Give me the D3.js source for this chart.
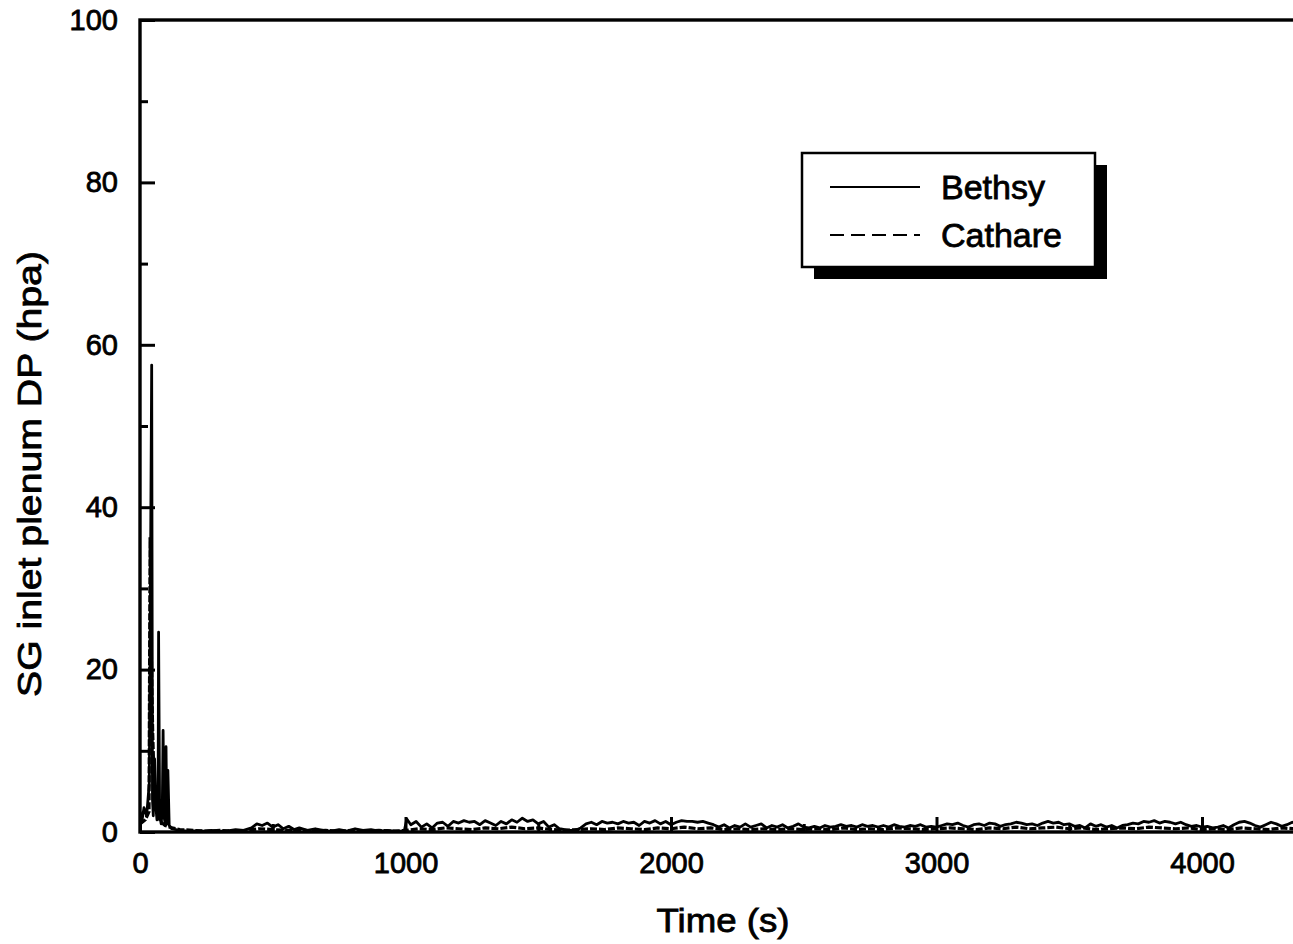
<!DOCTYPE html>
<html>
<head>
<meta charset="utf-8">
<script src="https://cdn.jsdelivr.net/npm/d3@7"></script>
<style>
  html, body { margin: 0; padding: 0; background: #fff; }
  svg { display: block; }
  text { font-family: "Liberation Sans", Arial, sans-serif; fill: #000; }
</style>
</head>
<body>
<svg id="chart" width="1293" height="944"></svg>
<script>
// Axis ticks
const xMajorTicks = [0, 1000, 2000, 3000, 4000];
const xMinorTicks = [500, 1500, 2500, 3500];
const yMajorTicks = [0, 20, 40, 60, 80, 100];
const yMinorTicks = [10, 30, 50, 70, 90];

// Bethsy measurement: [time (s), SG inlet plenum DP (hPa)]
const bethsy = [
  [0, 2.5], [8, 1.5], [15, 3.0], [25, 2.0], [35, 6.0], [44, 57.5], [47, 4.0], [50, 2.0], [55, 9.0],
  [60, 3.0], [64, 1.5], [68, 2.0], [70, 24.6], [74, 2.0], [80, 1.0], [84, 3.0], [87, 12.5], [90, 2.0],
  [95, 1.0], [98, 10.5], [101, 1.0], [105, 7.6], [110, 0.8], [120, 0.4],
  [150, 0.2], [180, 0.1], [210, 0.15], [240, 0.1], [270, 0.2], [300, 0.1], [330, 0.15], [360, 0.3],
  [390, 0.2], [420, 0.5], [440, 1.0], [460, 0.8], [480, 1.1], [500, 0.6], [520, 0.9], [540, 0.4],
  [560, 0.7], [580, 0.3], [600, 0.5], [630, 0.2], [660, 0.4], [690, 0.2], [720, 0.1], [750, 0.3],
  [780, 0.1], [810, 0.4], [840, 0.2], [870, 0.3], [900, 0.1], [930, 0.2], [960, 0.1], [995, 0.1],
  [1005, 1.6], [1020, 0.9], [1040, 1.3], [1060, 0.6], [1080, 1.0], [1100, 0.5], [1120, 1.1],
  [1140, 1.2], [1160, 0.7], [1180, 1.3], [1200, 1.1], [1220, 1.4], [1240, 1.2], [1260, 1.3],
  [1280, 0.9], [1300, 1.4], [1320, 1.1], [1340, 0.8], [1360, 1.3], [1380, 1.0], [1400, 1.5],
  [1420, 1.2], [1440, 1.7], [1460, 1.3], [1480, 1.5], [1500, 1.0], [1520, 1.3], [1540, 0.6],
  [1560, 0.9], [1580, 0.4], [1600, 0.3], [1620, 0.2], [1640, 0.2], [1660, 0.5], [1680, 1.0],
  [1700, 1.2], [1720, 0.9], [1740, 1.3], [1760, 1.1], [1780, 1.2], [1800, 1.0], [1820, 1.3],
  [1840, 1.1], [1860, 1.2], [1880, 0.8], [1900, 1.3], [1920, 1.1], [1940, 1.4], [1960, 1.0],
  [1980, 1.3], [2000, 0.9], [2020, 1.2], [2040, 1.4], [2060, 1.3], [2080, 1.3], [2100, 1.2],
  [2120, 1.3], [2140, 1.1], [2160, 0.9], [2180, 0.6], [2200, 0.9], [2220, 0.5], [2240, 0.8],
  [2260, 0.6], [2280, 1.0], [2300, 0.6], [2320, 0.8], [2340, 1.0], [2360, 0.5], [2380, 0.8],
  [2400, 0.6], [2420, 0.9], [2440, 0.5], [2460, 0.7], [2480, 1.0], [2500, 0.6], [2520, 0.5],
  [2540, 0.7], [2560, 0.5], [2580, 0.8], [2600, 0.6], [2620, 0.7], [2640, 0.9], [2660, 0.7],
  [2680, 0.8], [2700, 0.6], [2720, 0.9], [2740, 0.7], [2760, 0.8], [2780, 0.6], [2800, 0.8],
  [2820, 0.6], [2840, 0.9], [2860, 0.7], [2880, 0.6], [2900, 0.8], [2920, 0.7], [2940, 0.9],
  [2960, 0.6], [2980, 0.7], [3000, 0.6], [3020, 0.8], [3040, 1.0], [3060, 0.9], [3080, 1.1],
  [3100, 0.8], [3120, 0.6], [3140, 0.9], [3160, 1.0], [3180, 0.8], [3200, 1.1], [3220, 1.0],
  [3240, 0.7], [3260, 0.9], [3280, 1.0], [3300, 1.2], [3320, 1.1], [3340, 0.9], [3360, 1.0],
  [3380, 0.8], [3400, 1.1], [3420, 1.3], [3440, 1.1], [3460, 1.2], [3480, 0.9], [3500, 1.0],
  [3520, 0.7], [3540, 0.8], [3560, 0.5], [3580, 1.0], [3600, 0.7], [3620, 0.9], [3640, 0.6],
  [3660, 0.8], [3680, 0.5], [3700, 0.8], [3720, 0.9], [3740, 1.1], [3760, 1.0], [3780, 1.3],
  [3800, 1.2], [3820, 1.4], [3840, 1.1], [3860, 1.3], [3880, 1.2], [3900, 1.0], [3920, 1.2],
  [3940, 0.9], [3960, 0.7], [3980, 0.8], [4000, 0.6], [4020, 0.7], [4040, 0.5], [4060, 0.6],
  [4080, 0.8], [4100, 0.5], [4120, 0.9], [4140, 1.2], [4160, 1.3], [4180, 1.1], [4200, 0.8],
  [4220, 0.6], [4240, 0.9], [4260, 1.2], [4280, 1.0], [4300, 0.7], [4320, 0.9], [4340, 1.2],
  [4360, 1.0], [4380, 0.6], [4400, 0.9], [4420, 1.1], [4440, 0.8], [4460, 1.0]
];

// Cathare calculation: [time (s), SG inlet plenum DP (hPa)]
const cathare = [
  [0, 1.0], [20, 1.5], [34, 2.5], [38, 36.3], [40, 30.0], [42, 24.0], [45, 17.0], [48, 12.0],
  [52, 7.5], [56, 5.0], [62, 3.0], [70, 1.8], [80, 1.2], [95, 0.8], [120, 0.5],
  [150, 0.3], [200, 0.2], [250, 0.1], [300, 0.2], [350, 0.1], [400, 0.2], [450, 0.4], [500, 0.3],
  [550, 0.2], [600, 0.3], [650, 0.1], [700, 0.2], [750, 0.1], [800, 0.2], [850, 0.1], [900, 0.2],
  [950, 0.1], [1000, 0.2], [1050, 0.4], [1100, 0.3], [1150, 0.5], [1200, 0.4], [1250, 0.3],
  [1300, 0.5], [1350, 0.4], [1400, 0.6], [1450, 0.4], [1500, 0.5], [1550, 0.3], [1600, 0.2],
  [1650, 0.3], [1700, 0.4], [1750, 0.3], [1800, 0.5], [1850, 0.4], [1900, 0.3], [1950, 0.5],
  [2000, 0.4], [2050, 0.6], [2100, 0.4], [2150, 0.5], [2200, 0.3], [2250, 0.4], [2300, 0.3],
  [2350, 0.4], [2400, 0.3], [2450, 0.4], [2500, 0.3], [2550, 0.4], [2600, 0.3], [2650, 0.5],
  [2700, 0.3], [2750, 0.4], [2800, 0.3], [2850, 0.5], [2900, 0.4], [2950, 0.3], [3000, 0.4],
  [3050, 0.5], [3100, 0.4], [3150, 0.3], [3200, 0.5], [3250, 0.4], [3300, 0.6], [3350, 0.4],
  [3400, 0.5], [3450, 0.6], [3500, 0.4], [3550, 0.5], [3600, 0.3], [3650, 0.4], [3700, 0.5],
  [3750, 0.4], [3800, 0.6], [3850, 0.5], [3900, 0.4], [3950, 0.5], [4000, 0.3], [4050, 0.4],
  [4100, 0.3], [4150, 0.5], [4200, 0.4], [4250, 0.3], [4300, 0.5], [4350, 0.4], [4400, 0.3],
  [4450, 0.4]
];

const svg = d3.select("#chart");
const plotLeft = 140, plotTop = 20, plotBottom = 832;
const plotRight = 1467.5; // right frame of the 0-5000 s axis lies beyond the page edge

const x = d3.scaleLinear().domain([0, 5000]).range([plotLeft, plotRight]);
const y = d3.scaleLinear().domain([0, 100]).range([plotBottom, plotTop]);

svg.append("defs").append("clipPath").attr("id", "plotClip")
  .append("rect").attr("x", plotLeft).attr("y", plotTop)
  .attr("width", plotRight - plotLeft).attr("height", plotBottom - plotTop);

// Data lines
const line = d3.line().x(d => x(d[0])).y(d => y(d[1]));

const plot = svg.append("g").attr("clip-path", "url(#plotClip)");
plot.append("path").datum(cathare)
  .attr("d", line).attr("fill", "none").attr("stroke", "#000")
  .attr("stroke-width", 3.2).attr("stroke-dasharray", "7,2");
plot.append("path").datum(bethsy)
  .attr("d", line).attr("fill", "none").attr("stroke", "#000")
  .attr("stroke-width", 2.8).attr("stroke-linejoin", "round");

// Axes with inward ticks
const fmt = d3.format("d");
function styleAxis(g) {
  g.select(".domain").remove();
  g.selectAll(".tick line").attr("stroke", "#000").attr("stroke-width", 3);
  g.selectAll(".tick text").attr("font-size", 29).attr("fill", "#000")
    .attr("stroke", "#000").attr("stroke-width", 0.8)
    .attr("font-family", "'Liberation Sans', Arial, sans-serif");
}

svg.append("g").attr("transform", `translate(${plotLeft},0)`)
  .call(d3.axisLeft(y).tickValues(yMajorTicks).tickFormat(fmt)
    .tickSizeInner(-15).tickSizeOuter(0).tickPadding(22))
  .call(styleAxis);
svg.append("g").attr("transform", `translate(${plotLeft},0)`)
  .call(d3.axisLeft(y).tickValues(yMinorTicks).tickSizeInner(-8).tickSizeOuter(0).tickFormat(""))
  .call(styleAxis);

svg.append("g").attr("transform", `translate(0,${plotBottom})`)
  .call(d3.axisBottom(x).tickValues(xMajorTicks).tickFormat(fmt)
    .tickSizeInner(-15).tickSizeOuter(0).tickPadding(20))
  .call(styleAxis);
svg.append("g").attr("transform", `translate(0,${plotBottom})`)
  .call(d3.axisBottom(x).tickValues(xMinorTicks).tickSizeInner(-8).tickSizeOuter(0).tickFormat(""))
  .call(styleAxis);

// Frame
svg.append("rect")
  .attr("x", plotLeft).attr("y", plotTop)
  .attr("width", plotRight - plotLeft).attr("height", plotBottom - plotTop)
  .attr("fill", "none").attr("stroke", "#000").attr("stroke-width", 3.4);

// Axis titles
svg.append("text")
  .attr("x", 723).attr("y", 932).attr("text-anchor", "middle")
  .attr("font-size", 34).attr("stroke", "#000").attr("stroke-width", 0.8)
  .attr("textLength", 133).attr("lengthAdjust", "spacingAndGlyphs")
  .text("Time (s)");

svg.append("text")
  .attr("transform", "translate(41,474) rotate(-90)")
  .attr("text-anchor", "middle")
  .attr("font-size", 33).attr("stroke", "#000").attr("stroke-width", 0.8)
  .attr("textLength", 446).attr("lengthAdjust", "spacingAndGlyphs")
  .text("SG inlet plenum DP (hpa)");

// Legend with drop shadow
const legend = svg.append("g");
legend.append("rect").attr("x", 814).attr("y", 165).attr("width", 293).attr("height", 114).attr("fill", "#000");
legend.append("rect").attr("x", 802).attr("y", 153).attr("width", 293).attr("height", 114)
  .attr("fill", "#fff").attr("stroke", "#000").attr("stroke-width", 2.5);

const legendItems = [
  { name: "Bethsy", dash: null },
  { name: "Cathare", dash: "14,7" }
];
legendItems.forEach((item, i) => {
  const cy = 187 + i * 48;
  legend.append("line").attr("x1", 830).attr("x2", 920).attr("y1", cy).attr("y2", cy)
    .attr("stroke", "#000").attr("stroke-width", 2.2)
    .attr("stroke-dasharray", item.dash);
  legend.append("text").attr("x", 941).attr("y", cy + 12)
    .attr("font-size", 34).attr("stroke", "#000").attr("stroke-width", 0.8)
    .text(item.name);
});
</script>
</body>
</html>
